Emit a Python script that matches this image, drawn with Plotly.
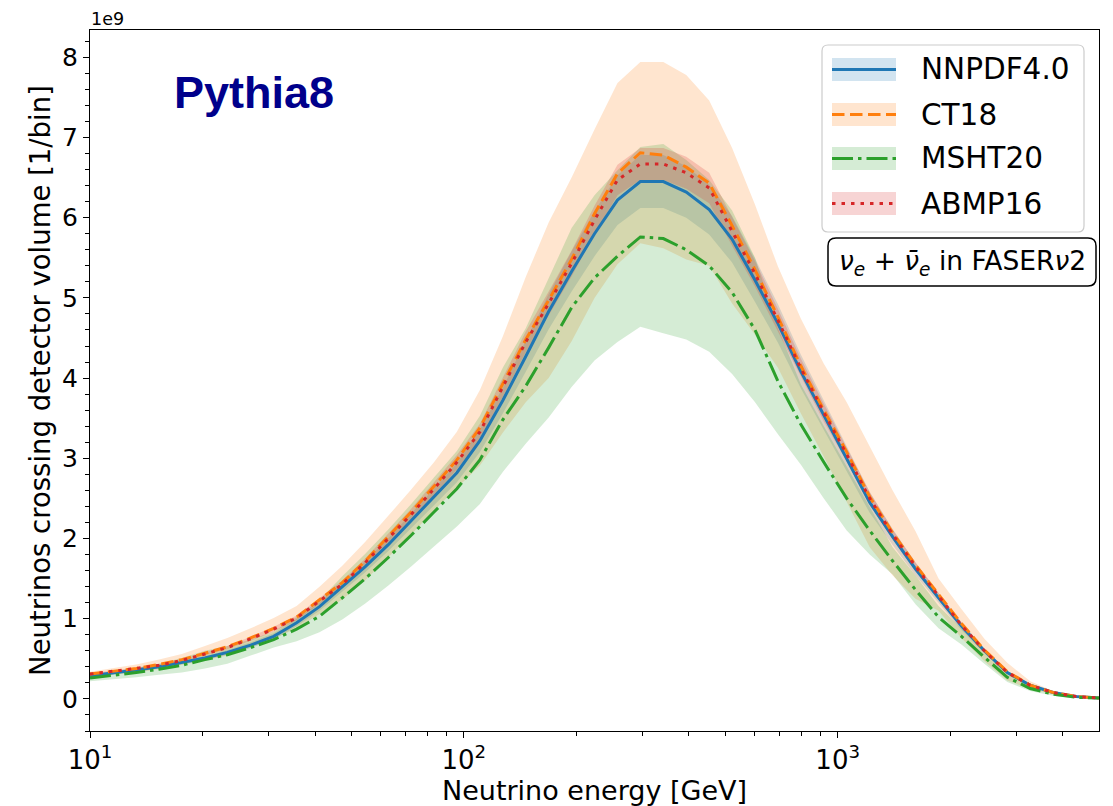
import numpy as np
import plotly.graph_objects as go

# ---------------- data (values in units of 1e9 neutrinos per bin) ----------------
energy_gev = [
    10.0, 11.5, 13.3, 15.3, 17.6,
    20.3, 23.3, 26.9, 31.0, 35.7,
    41.1, 47.3, 54.5, 62.7, 72.3,
    83.2, 95.8, 110.4, 127.1, 146.4,
    168.6, 194.2, 223.6, 257.6, 296.6,
    341.6, 393.5, 453.2, 521.9, 601.1,
    692.2, 797.3, 918.2, 1057, 1218,
    1403, 1615, 1861, 2143, 2468,
    2842, 3273, 3770, 4342, 5000,
]

nnpdf40 = [
    0.29, 0.32, 0.36, 0.40, 0.45,
    0.51, 0.58, 0.67, 0.78, 0.95,
    1.15, 1.40, 1.65, 1.92, 2.22,
    2.52, 2.82, 3.22, 3.72, 4.27,
    4.83, 5.33, 5.80, 6.22, 6.45,
    6.45, 6.32, 6.10, 5.73, 5.22,
    4.68, 4.08, 3.53, 3.00, 2.45,
    2.02, 1.62, 1.26, 0.91, 0.60,
    0.33, 0.17, 0.08, 0.03, 0.01,
]
nnpdf40_err = [
    0.015, 0.015, 0.02, 0.02, 0.02,
    0.025, 0.03, 0.035, 0.04, 0.045,
    0.05, 0.06, 0.07, 0.08, 0.09,
    0.10, 0.12, 0.14, 0.16, 0.19,
    0.22, 0.25, 0.28, 0.31, 0.33,
    0.33, 0.32, 0.31, 0.29, 0.27,
    0.24, 0.21, 0.18, 0.15, 0.13,
    0.10, 0.08, 0.06, 0.05, 0.03,
    0.02, 0.01, 0.005, 0.002, 0.001,
]

ct18 = [
    0.31, 0.34, 0.38, 0.43, 0.49,
    0.57, 0.65, 0.76, 0.88, 1.02,
    1.23, 1.45, 1.72, 2.02, 2.33,
    2.65, 2.98, 3.38, 3.92, 4.48,
    4.97, 5.48, 6.05, 6.55, 6.81,
    6.78, 6.63, 6.43, 5.90, 5.35,
    4.76, 4.15, 3.60, 3.08, 2.52,
    2.07, 1.67, 1.30, 0.94, 0.61,
    0.34, 0.17, 0.08, 0.03, 0.01,
]
ct18_err = [
    0.03, 0.04, 0.05, 0.06, 0.07,
    0.09, 0.11, 0.12, 0.13, 0.14,
    0.17, 0.21, 0.24, 0.26, 0.28,
    0.30, 0.35, 0.47, 0.60, 0.78,
    0.97, 1.02, 1.05, 1.13, 1.13,
    1.16, 1.15, 1.03, 0.97, 0.81,
    0.63, 0.59, 0.58, 0.62, 0.63,
    0.53, 0.42, 0.20, 0.18, 0.14,
    0.11, 0.05, 0.02, 0.01, 0.01,
]

msht20 = [
    0.26, 0.29, 0.33, 0.37, 0.42,
    0.49, 0.55, 0.64, 0.74, 0.87,
    1.03, 1.26, 1.50, 1.76, 2.04,
    2.33, 2.62, 2.98, 3.48, 3.90,
    4.38, 4.88, 5.25, 5.52, 5.76,
    5.74, 5.60, 5.40, 5.07, 4.60,
    3.96, 3.42, 2.95, 2.50, 2.10,
    1.72, 1.36, 1.02, 0.78, 0.52,
    0.27, 0.13, 0.06, 0.02, 0.01,
]
msht20_err = [
    0.04, 0.05, 0.06, 0.07, 0.09,
    0.11, 0.11, 0.10, 0.10, 0.15,
    0.20, 0.27, 0.31, 0.35, 0.39,
    0.43, 0.47, 0.55, 0.65, 0.72,
    0.87, 0.99, 1.03, 1.07, 1.12,
    1.18, 1.12, 1.07, 1.02, 0.90,
    0.66, 0.50, 0.45, 0.40, 0.30,
    0.17, 0.18, 0.14, 0.10, 0.08,
    0.06, 0.03, 0.02, 0.01, 0.005,
]

abmp16 = [
    0.31, 0.34, 0.38, 0.42, 0.48,
    0.56, 0.64, 0.75, 0.87, 1.01,
    1.22, 1.43, 1.70, 2.00, 2.30,
    2.62, 2.95, 3.33, 3.88, 4.45,
    4.93, 5.43, 5.97, 6.47, 6.67,
    6.67, 6.56, 6.37, 5.83, 5.30,
    4.72, 4.12, 3.57, 3.05, 2.50,
    2.05, 1.65, 1.28, 0.92, 0.60,
    0.33, 0.17, 0.08, 0.03, 0.01,
]
abmp16_err = [
    0.01, 0.01, 0.01, 0.015, 0.015,
    0.02, 0.02, 0.025, 0.03, 0.03,
    0.04, 0.045, 0.05, 0.06, 0.07,
    0.08, 0.09, 0.10, 0.12, 0.13,
    0.15, 0.16, 0.18, 0.19, 0.20,
    0.20, 0.20, 0.19, 0.18, 0.16,
    0.14, 0.12, 0.11, 0.09, 0.08,
    0.06, 0.05, 0.04, 0.03, 0.02,
    0.01, 0.005, 0.003, 0.001, 0.0005,
]

series_names = ["NNPDF4.0", "CT18", "MSHT20", "ABMP16"]
x_major_ticks = [10, 100, 1000]
x_major_labels = ["10<sup>1</sup>", "10<sup>2</sup>", "10<sup>3</sup>"]
x_minor_ticks = [20, 30, 40, 50, 60, 70, 80, 90,
                 200, 300, 400, 500, 600, 700, 800, 900,
                 2000, 3000, 4000]
y_ticks = [0, 1, 2, 3, 4, 5, 6, 7, 8]

# ---------------- styles ----------------
colors = ["#1f77b4", "#ff7f0e", "#2ca02c", "#d62728"]
fills = ["rgba(31,119,180,0.2)", "rgba(255,127,14,0.2)",
         "rgba(44,160,44,0.2)", "rgba(214,39,40,0.2)"]
dashes = ["solid", "12.5px,5.5px", "21px,5px,3.5px,5px", "3.5px,6px"]
LW = 3

centrals = [nnpdf40, ct18, msht20, abmp16]
errs = [nnpdf40_err, ct18_err, msht20_err, abmp16_err]

FONT = "DejaVu Sans"
W, H = 1113, 806
L, R, T, B = 90, 1099, 30, 731

fig = go.Figure()

x = np.array(energy_gev, dtype=float)
for c, e, fc in zip(centrals, errs, fills):
    c = np.array(c); e = np.array(e)
    fig.add_trace(go.Scatter(x=x, y=c - e, mode="lines", line=dict(width=0),
                             showlegend=False, hoverinfo="skip"))
    fig.add_trace(go.Scatter(x=x, y=c + e, mode="lines", line=dict(width=0),
                             fill="tonexty", fillcolor=fc,
                             showlegend=False, hoverinfo="skip"))

for c, col, d, name in zip(centrals, colors, dashes, series_names):
    fig.add_trace(go.Scatter(x=x, y=c, mode="lines", name=name,
                             line=dict(color=col, width=LW, dash=d),
                             showlegend=False))


def px(v):
    return (v - L) / (R - L)


def py(v):
    return (B - v) / (B - T)


def rrect(x0, y0, x1, y1, r):
    p = lambda a, b: f"{px(a):.5f},{py(b):.5f}"
    return (f"M {p(x0 + r, y0)} L {p(x1 - r, y0)} Q {p(x1, y0)} {p(x1, y0 + r)} "
            f"L {p(x1, y1 - r)} Q {p(x1, y1)} {p(x1 - r, y1)} "
            f"L {p(x0 + r, y1)} Q {p(x0, y1)} {p(x0, y1 - r)} "
            f"L {p(x0, y0 + r)} Q {p(x0, y0)} {p(x0 + r, y0)} Z")


shapes = []
annotations = []

# legend box
shapes.append(dict(type="path", xref="paper", yref="paper", layer="above",
                   path=rrect(822, 45, 1084, 232, 6),
                   line=dict(color="rgba(204,204,204,1)", width=1.2),
                   fillcolor="rgba(255,255,255,0.8)"))
leg_y = [69.5, 114.5, 158.5, 203.5]
for yc, name, col, fc, d in zip(leg_y, series_names, colors, fills, dashes):
    shapes.append(dict(type="rect", xref="paper", yref="paper", layer="above",
                       x0=px(832), x1=px(896), y0=py(yc - 11.5), y1=py(yc + 11.5),
                       fillcolor=fc, line=dict(width=0)))
    shapes.append(dict(type="line", xref="paper", yref="paper", layer="above",
                       x0=px(832), x1=px(896), y0=py(yc), y1=py(yc),
                       line=dict(color=col, width=LW, dash=d)))
    annotations.append(dict(xref="paper", yref="paper", x=px(919), y=py(yc),
                            xanchor="left", yanchor="middle", showarrow=False,
                            text=name, font=dict(family=FONT, size=29.5, color="black")))

# text box
shapes.append(dict(type="path", xref="paper", yref="paper", layer="above",
                   path=rrect(828, 238, 1096, 286, 8),
                   line=dict(color="black", width=1.5),
                   fillcolor="white"))
annotations.append(dict(xref="paper", yref="paper", x=px(962), y=py(262),
                        xanchor="center", yanchor="middle", showarrow=False,
                        text="<i>ν</i><sub><i>e</i></sub> + <i>ν̄</i><sub><i>e</i></sub> in FASER<i>ν</i>2",
                        font=dict(family=FONT, size=26.5, color="black")))

# Pythia8 label
annotations.append(dict(xref="paper", yref="paper", x=px(254), y=py(92),
                        xanchor="center", yanchor="middle", showarrow=False,
                        text="<b>Pythia8</b>",
                        font=dict(family="Liberation Sans", size=45, color="#00008b")))

# offset text
annotations.append(dict(xref="paper", yref="paper", x=px(89), y=py(19),
                        xanchor="left", yanchor="middle", showarrow=False,
                        text="1e9", font=dict(family=FONT, size=17.5, color="black")))

fig.update_layout(
    width=W, height=H,
    margin=dict(l=L, r=W - R, t=T, b=H - B, autoexpand=False),
    paper_bgcolor="white", plot_bgcolor="white",
    showlegend=False,
    shapes=shapes, annotations=annotations,
    font=dict(family=FONT, color="black"),
)

fig.update_xaxes(
    type="log", range=[1, np.log10(5000)],
    showline=True, mirror=True, linecolor="black", linewidth=1.3,
    showgrid=False, zeroline=False,
    ticks="outside", ticklen=6, tickwidth=1.2, tickcolor="black",
    tickmode="array", tickvals=x_major_ticks, ticktext=x_major_labels,
    tickfont=dict(family=FONT, size=26, color="black"),
    minor=dict(ticks="outside", ticklen=3.5, tickwidth=1, tickcolor="black",
               tickmode="array", tickvals=x_minor_ticks, showgrid=False),
    title=dict(text="Neutrino energy [GeV]", standoff=6,
               font=dict(family=FONT, size=27, color="black")),
)

fig.update_yaxes(
    range=[-0.40, 8.34],
    showline=True, mirror=True, linecolor="black", linewidth=1.3,
    showgrid=False, zeroline=False,
    ticks="outside", ticklen=6, tickwidth=1.2, tickcolor="black",
    tickmode="array", tickvals=y_ticks, ticktext=[str(v) for v in y_ticks],
    tickfont=dict(family=FONT, size=25, color="black"),
    minor=dict(ticks="outside", ticklen=3.5, tickwidth=1, tickcolor="black",
               dtick=0.2, showgrid=False),
    title=dict(text="Neutrinos crossing detector volume [1/bin]", standoff=3,
               font=dict(family=FONT, size=27.5, color="black")),
)

fig.write_html("out.html")
